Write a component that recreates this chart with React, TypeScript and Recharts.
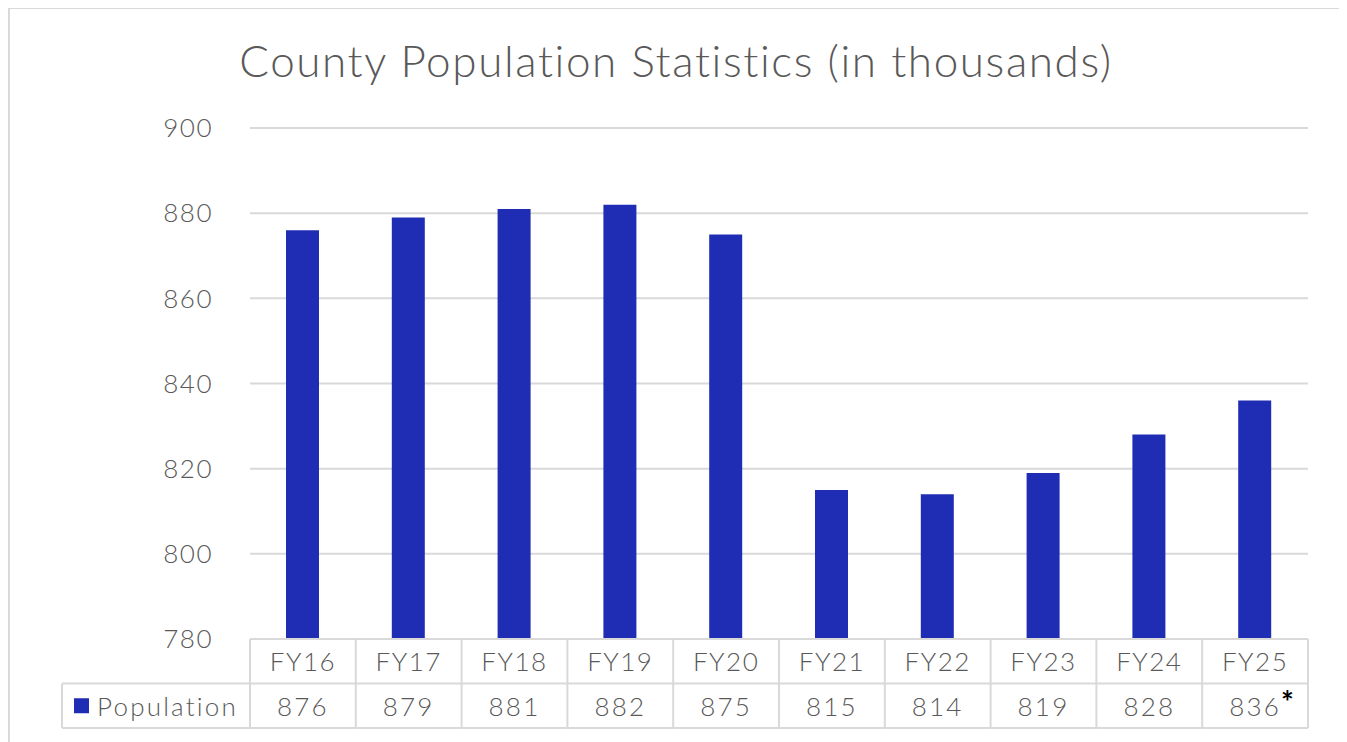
import React from "react";
import { BarChart, Bar, XAxis, YAxis, CartesianGrid } from "recharts";

const categories = ["FY16", "FY17", "FY18", "FY19", "FY20", "FY21", "FY22", "FY23", "FY24", "FY25"];
const population = [876, 879, 881, 882, 875, 815, 814, 819, 828, 836];
const footnotes = ["", "", "", "", "", "", "", "", "", "*"];
const yTicks = [780, 800, 820, 840, 860, 880, 900];
const seriesName = "Population";
const title = "County Population Statistics (in thousands)";

const data = categories.map((c, i) => ({ name: c, value: population[i], note: footnotes[i] }));

const W = 1339;
const H = 734;
const MARGIN = { top: 120, right: 39, bottom: 3, left: 182 };
const Y_W = 60;
const BAND = (W - MARGIN.left - MARGIN.right - Y_W) / categories.length;
const ROW = 44.5;
const GRID = "#d9d9d9";
const TEXT = "#595959";
const BAR = "#1f2db4";
const FONT = "Lato, 'Noto Sans', sans-serif";
const FS = 26;
const LS = 1.5;
const LS_TABLE = 2.2;

const TableTick = (props: any) => {
  const { x, y, payload, index } = props;
  const left = x - BAND / 2;
  const right = x + BAND / 2;
  const d = data[index];
  return (
    <g>
      <line x1={left} x2={left} y1={y} y2={y + 2 * ROW} stroke={GRID} strokeWidth={2} />
      {index === categories.length - 1 && (
        <line x1={right} x2={right} y1={y} y2={y + 2 * ROW} stroke={GRID} strokeWidth={2} />
      )}
      <line x1={left} x2={right} y1={y + ROW} y2={y + ROW} stroke={GRID} strokeWidth={2} />
      <line x1={left} x2={right} y1={y + 2 * ROW} y2={y + 2 * ROW} stroke={GRID} strokeWidth={2} />
      <text x={x} y={y + ROW / 2} textAnchor="middle" dominantBaseline="central" fill={TEXT} fontSize={FS} fontWeight={300} letterSpacing={LS} fontFamily={FONT}>
        {payload.value}
      </text>
      <text x={x} y={y + ROW * 1.5} textAnchor="middle" dominantBaseline="central" fill={TEXT} fontSize={FS} fontWeight={300} letterSpacing={LS_TABLE} fontFamily={FONT}>
        {d ? d.value : ""}
      </text>
      {d && d.note ? (
        <text x={x + 26} y={y + ROW * 1.5 - 5} textAnchor="start" dominantBaseline="central" fill="#000" fontWeight="bold" fontSize={30} fontFamily={FONT}>
          {d.note}
        </text>
      ) : null}
      {index === 0 && (
        <g>
          <line x1={54} x2={left} y1={y + ROW} y2={y + ROW} stroke={GRID} strokeWidth={2} />
          <line x1={54} x2={left} y1={y + 2 * ROW} y2={y + 2 * ROW} stroke={GRID} strokeWidth={2} />
          <line x1={54} x2={54} y1={y + ROW} y2={y + 2 * ROW} stroke={GRID} strokeWidth={2} />
          <rect x={66} y={y + ROW * 1.5 - 7.5} width={15} height={15} fill={BAR} />
          <text x={89} y={y + ROW * 1.5} dominantBaseline="central" fill={TEXT} fontSize={FS} fontWeight={300} letterSpacing={LS_TABLE} fontFamily={FONT}>
            {seriesName}
          </text>
        </g>
      )}
    </g>
  );
};

export default function App() {
  return (
    <div style={{ position: "relative", width: W, height: H, background: "#fff" }}>
      <div
        style={{
          position: "absolute",
          left: 0,
          top: -1,
          width: 1334,
          height: H + 1,
          borderTop: "2.5px solid #d9d9d9",
          borderLeft: "2.5px solid #d9d9d9",
          borderRight: "2.5px solid #d9d9d9",
          boxSizing: "border-box",
          pointerEvents: "none",
        }}
      />
      <div
        style={{
          position: "absolute",
          left: 0,
          width: 1336,
          top: 26,
          textAlign: "center",
          fontFamily: FONT,
          fontSize: 44,
          fontWeight: 300,
          letterSpacing: 1.6,
          lineHeight: "52px",
          color: TEXT,
        }}
      >
        {title}
      </div>
      <BarChart width={W} height={H} data={data} margin={MARGIN}>
        <CartesianGrid vertical={false} stroke={GRID} strokeWidth={2} />
        <XAxis
          dataKey="name"
          height={100}
          axisLine={{ stroke: GRID, strokeWidth: 2 }}
          tickLine={false}
          tickSize={0}
          tickMargin={0}
          interval={0}
          tick={<TableTick />}
        />
        <YAxis
          width={Y_W}
          domain={[780, 900]}
          ticks={yTicks}
          axisLine={false}
          tickLine={false}
          tickSize={0}
          tickMargin={37}
          tick={{ fill: TEXT, fontSize: FS, fontWeight: 300, letterSpacing: LS, fontFamily: FONT }}
          interval={0}
        />
        <Bar dataKey="value" name={seriesName} fill={BAR} barSize={33} isAnimationActive={false} />
      </BarChart>
    </div>
  );
}
